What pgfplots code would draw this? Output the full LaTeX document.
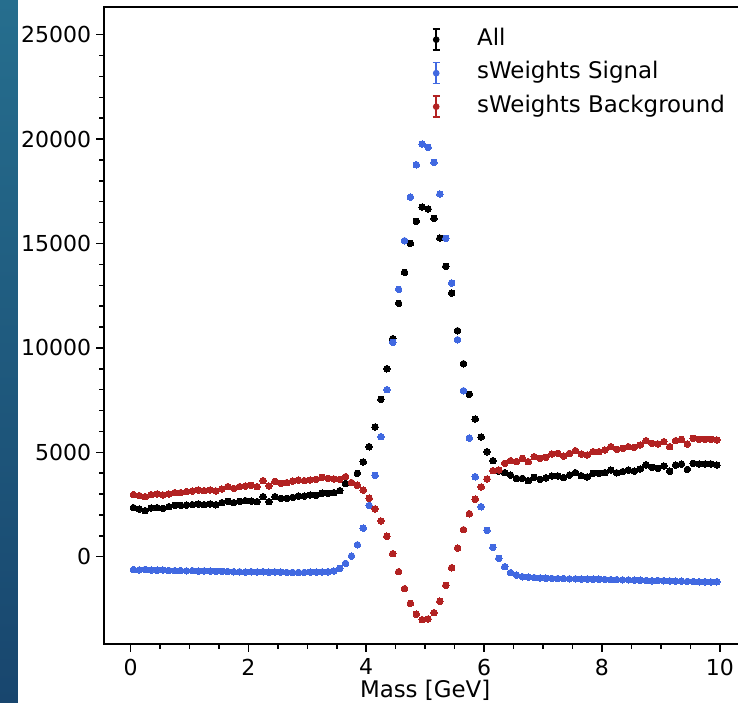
\documentclass[border=0pt]{standalone}
\usepackage{pgfplots}
\pgfplotsset{compat=1.18}
\usepackage{pgfplotstable}
\usepackage{fontspec}
\setmainfont{DejaVu Sans}
\definecolor{royalblue}{RGB}{65,105,225}
\definecolor{firebrick}{RGB}{178,34,34}
\definecolor{stripTop}{RGB}{38,110,142}
\definecolor{stripBot}{RGB}{24,70,110}
\newcommand\fs{\fontsize{11pt}{13pt}\selectfont}
\newcommand\fl{\fontsize{11.45pt}{13.5pt}\selectfont}
\newcommand\errleg[1]{%
  \path[draw=none,fill=none] (-2pt,0) -- (20.5pt,0);
  \draw[#1,line width=0.75pt] (0pt,-5.25pt) -- (0pt,5.25pt);
  \draw[#1,line width=0.75pt] (-1.75pt,-5.25pt) -- (1.75pt,-5.25pt);
  \draw[#1,line width=0.75pt] (-1.75pt,5.25pt) -- (1.75pt,5.25pt);
  \fill[#1] (0pt,0pt) circle (1.45pt);}

\pgfplotstableread{
x all sig bkg
0.05 2348 -620 2971
0.15 2284 -630 2923
0.25 2205 -610 2875
0.35 2332 -640 2971
0.45 2348 -650 3003
0.55 2316 -640 2955
0.65 2396 -660 3003
0.75 2460 -670 3066
0.85 2460 -665 3066
0.95 2476 -680 3114
1.05 2492 -670 3146
1.15 2524 -690 3194
1.25 2492 -680 3162
1.35 2524 -690 3194
1.45 2490 -700 3146
1.55 2588 -700 3242
1.65 2652 -710 3354
1.75 2588 -720 3274
1.85 2652 -720 3354
1.95 2683 -730 3386
2.05 2660 -720 3418
2.15 2636 -730 3354
2.25 2875 -720 3641
2.35 2636 -740 3386
2.45 2875 -730 3609
2.55 2795 -740 3514
2.65 2795 -750 3545
2.75 2843 -750 3625
2.85 2907 -750 3673
2.95 2907 -750 3641
3.05 2955 -740 3673
3.15 2940 -740 3705
3.25 3040 -730 3801
3.35 3035 -720 3753
3.45 3066 -685 3721
3.55 3162 -557 3705
3.65 3500 -318 3833
3.75 3545 32 3545
3.85 3994 570 3420
3.95 4540 1365 3194
4.05 5268 2450 2797
4.15 6211 3898 2290
4.25 7538 5748 1710
4.35 9003 7998 977
4.45 10440 10268 144
4.55 12135 12806 -718
4.65 13620 15133 -1532
4.75 15009 17226 -2232
4.85 16062 18773 -2758
4.95 16747 19764 -3017
5.05 16651 19606 -2984
5.15 16206 18888 -2682
5.25 15263 17370 -2136
5.35 13907 15248 -1370
5.45 12629 13107 -527
5.55 10823 10392 417
5.65 9243 7950 1293
5.75 7777 5685 2059
5.85 6594 3831 2749
5.95 5732 2394 3338
6.05 5028 1264 3721
6.15 4599 449 4120
6.25 4100 -78 4152
6.35 4024 -479 4471
6.45 3900 -766 4599
6.55 3753 -878 4551
6.65 3753 -958 4711
6.75 3641 -980 4551
6.85 3801 -1000 4790
6.95 3705 -1020 4711
7.05 3780 -1030 4759
7.15 3865 -1040 4918
7.25 3870 -1050 4950
7.35 3790 -1050 4822
7.45 3913 -1060 4950
7.55 4024 -1060 5078
7.65 3880 -1070 4918
7.75 3820 -1070 4870
7.85 3993 -1080 5030
7.95 3993 -1080 5030
8.05 4024 -1090 5110
8.15 4152 -1100 5269
8.25 4020 -1100 5142
8.35 4072 -1110 5190
8.45 4152 -1110 5269
8.55 4100 -1120 5238
8.65 4200 -1130 5349
8.75 4400 -1140 5557
8.85 4280 -1150 5429
8.95 4232 -1140 5397
9.05 4344 -1150 5509
9.15 4090 -1160 5269
9.25 4391 -1170 5557
9.35 4439 -1170 5621
9.45 4184 -1180 5397
9.55 4471 -1190 5669
9.65 4439 -1200 5621
9.75 4439 -1200 5621
9.85 4439 -1210 5621
9.95 4391 -1200 5589
}\data

\begin{document}
\begin{tikzpicture}
\useasboundingbox (0,0) rectangle (369pt,351pt);
\clip (0,0) rectangle (369pt,351pt);
\fill[white] (0,0) rectangle (369pt,351pt);
\shade[top color=stripTop,bottom color=stripBot] (0,0) rectangle (8.9pt,351pt);
\begin{axis}[
  at={(52.15pt,29.15pt)}, anchor=south west,
  scale only axis, width=320.85pt, height=318.5pt,
  xmin=-0.445, xmax=10.445, ymin=-4167, ymax=26341,
  axis line style={line width=1pt},
  xtick={0,2,...,10}, ytick={0,5000,...,25000},
  minor x tick num=3, minor y tick num=4,
  xtick pos=bottom, ytick pos=left,
  tick align=outside,
  major tick length=4pt, minor tick length=2.5pt,
  every tick/.style={line width=0.75pt, black},
  scaled y ticks=false,
  /pgf/number format/.cd, 1000 sep={}, assume math mode=true, /pgfplots/.cd,
  tick label style={font=\fs},
  yticklabel style={xshift=1pt},
  xlabel={Mass [GeV]},
  xlabel style={font=\fl, at={(axis description cs:0.5,0)}, anchor=base, yshift=-26.65pt},
  title={Mass},
  title style={font=\fontsize{12pt}{14pt}\selectfont, at={(axis description cs:0.5,1)}, anchor=base, yshift=2.35pt},
  legend style={draw=none, fill=none, font=\fl, inner sep=0pt,
    at={(rel axis cs:0.51,0.9665)}, anchor=north west,
    row sep=5.5pt,
    nodes={inner sep=0pt, text height=8pt, text depth=2.5pt}},
  legend cell align=left,
]
\addplot[color=black, only marks, mark=*, mark size=1.65pt, mark options={draw=black, fill=black, line width=0pt},
  legend image code/.code={\errleg{black}}] table[x=x, y=all] {\data};
\addlegendentry{All}
\addplot[color=royalblue, only marks, mark=*, mark size=1.65pt, mark options={draw=royalblue, fill=royalblue, line width=0pt},
  legend image code/.code={\errleg{royalblue}}] table[x=x, y=sig] {\data};
\addlegendentry{sWeights Signal}
\addplot[color=firebrick, only marks, mark=*, mark size=1.65pt, mark options={draw=firebrick, fill=firebrick, line width=0pt},
  legend image code/.code={\errleg{firebrick}}] table[x=x, y=bkg] {\data};
\addlegendentry{sWeights Background}
\end{axis}
\end{tikzpicture}
\end{document}
